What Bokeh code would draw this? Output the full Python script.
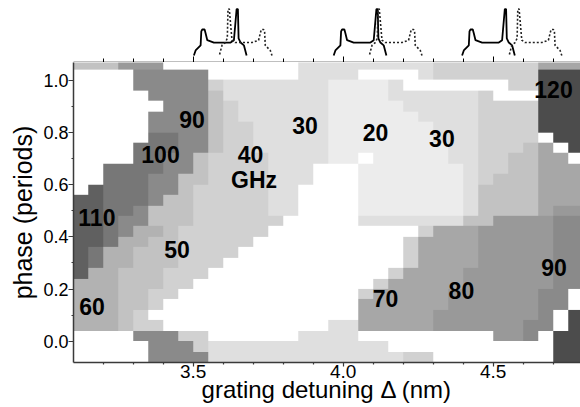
import numpy as np
from bokeh.plotting import figure
from bokeh.layouts import column
from bokeh.models import ColumnDataSource, FixedTicker, LinearAxis, LinearColorMapper, Range1d
from bokeh.core.properties import value
from bokeh.embed import file_html
from bokeh.resources import INLINE

# ---------------- data ----------------
DETUNING_START = 3.10   # nm, left edge of the first grid column
DETUNING_STEP = 0.05    # nm per column
PHASE_START = -0.08     # periods, bottom edge of the lowest grid row
PHASE_STEP = 0.04       # periods per row

# pulsation frequency of every cell in units of 10 GHz (hex digit); '0' = no pulsation (white)
# first string = top row (highest phase)
FREQ_ROWS = [
    "5558880000000003333333334444444777",
    "0000999990000003333000034444444CCC",
    "0000999994333333322223000000044CCC",
    "0000099995333333322223333334000CCC",
    "0000009995433333322222333334444CCC",
    "0000099995433333322222233334444CCC",
    "0000099995443333322222223334444CCC",
    "00000AA9954433333222222233344440CC",
    "0000AAA99544333332222222233444570C",
    "0000AA9954444333322022222334455770",
    "00AAAA9954444333000222222234455777",
    "00AAA99554444333000222222234555777",
    "0BAAA99544444330000222222235555777",
    "BBAAA95544444330000222222235555777",
    "BBAA955544444330000222222235555788",
    "BBA9955544444400000333333355888899",
    "BBA9665444444000000000047778888899",
    "BBA6655444440000000000477778888899",
    "BA66555444400000000000477778888899",
    "BA66555444000000000000477778888899",
    "B665554440000000000004777788888899",
    "6665554400000000000047777788888899",
    "6665544000000000000477777888888990",
    "6665540000000000000777777888888990",
    "666540000000000000077777888888890C",
    "666544000000000003377777888888990C",
    "00009994400000033330000000008890CC",
    "00000999433333333333300000000000CC",
    "00000999933333333333334400000000CC",
]

FREQ_LEVELS = [20, 30, 40, 50, 60, 70, 80, 90, 100, 110, 120]

MAJOR_X = [3.5, 4.0, 4.5]
MINOR_X = [3.1, 3.2, 3.3, 3.4, 3.6, 3.7, 3.8, 3.9, 4.1, 4.2, 4.3, 4.4, 4.6, 4.7]
X_TICK_LABELS = ["3.5", "4.0", "4.5"]
MAJOR_Y = [0.0, 0.2, 0.4, 0.6, 0.8, 1.0]
MINOR_Y = [0.1, 0.3, 0.5, 0.7, 0.9]
Y_TICK_LABELS = ["0.0", "0.2", "0.4", "0.6", "0.8", "1.0"]

LABEL_TEXT = ["90", "100", "110", "60", "50", "40", "GHz", "30", "20", "30", "120", "70", "80", "90"]
LABEL_DETUNING = [3.496, 3.391, 3.179, 3.163, 3.446, 3.691, 3.703, 3.873, 4.108, 4.329, 4.701, 4.141, 4.394, 4.703]
LABEL_PHASE = [0.852, 0.718, 0.476, 0.133, 0.352, 0.718, 0.620, 0.827, 0.799, 0.779, 0.965, 0.164, 0.194, 0.281]

# inset spectra: wavelength offset from the main peak (nm) and normalized intensity
SPEC_OFFSET = [-0.1447, -0.139, -0.1223, -0.12, -0.1167, -0.109, -0.1057, -0.1, -0.078,
               -0.0223, -0.0113, -0.0023, 0.002, 0.0043, 0.011, 0.022, 0.031]
SPEC_LEVEL = [0.0, 0.11, 0.22, 0.52, 0.56, 0.56, 0.48, 0.33, 0.28,
              0.28, 0.33, 1.0, 1.0, 0.37, 0.28, 0.22, 0.0]
SOLID_PEAK = [3.647, 4.113, 4.541]
DOTTED_PEAK = [3.618, 4.118, 4.584]

X_TITLE = "grating detuning \u0394 (nm)"
Y_TITLE = "phase (periods)"

# ---------------- styles ----------------
GRAYS = ["#ececec", "#dfdfdf", "#d1d1d1", "#c2c2c2", "#b2b2b2", "#a7a7a7",
         "#999999", "#8a8a8a", "#777777", "#606060", "#4c4c4c"]
FONT = "Liberation Sans"
AXIS_COLOR = "#3a3a3a"

# ---------------- grid ----------------
lengths = [len(r) for r in FREQ_ROWS]
ncols = max(set(lengths), key=lengths.count)
nrows = len(FREQ_ROWS)
grid = np.array([[int(ch, 16) * 10 for ch in row.ljust(ncols, row[-1])[:ncols]]
                 for row in reversed(FREQ_ROWS)], dtype=float)
grid[grid == 0] = np.nan
img = np.kron(grid, np.ones((4, 4)))

mapper = LinearColorMapper(palette=GRAYS, low=FREQ_LEVELS[0] - 5, high=FREQ_LEVELS[-1] + 5,
                           nan_color="white")

x_range = Range1d(3.101, 4.791)
p = figure(width=580, height=345, x_range=x_range, y_range=Range1d(-0.0817, 1.069),
           output_backend="svg", toolbar_location=None,
           min_border_left=73, min_border_right=0, min_border_top=0, min_border_bottom=45)
p.image(image=[img], x=DETUNING_START, y=PHASE_START,
        dw=ncols * DETUNING_STEP, dh=nrows * PHASE_STEP, color_mapper=mapper)

src = ColumnDataSource(dict(x=LABEL_DETUNING, y=LABEL_PHASE, t=LABEL_TEXT))
p.text(x="x", y="y", text="t", source=src, text_font=value(FONT), text_font_style="bold",
       text_font_size="23px", text_align="center", text_baseline="middle", text_color="black")

p.xgrid.visible = False
p.ygrid.visible = False
p.outline_line_color = None
p.background_fill_color = "white"
p.border_fill_color = "white"

p.xaxis.ticker = FixedTicker(ticks=MAJOR_X, minor_ticks=MINOR_X)
p.xaxis.major_label_overrides = dict(zip(MAJOR_X, X_TICK_LABELS))
p.yaxis.ticker = FixedTicker(ticks=MAJOR_Y, minor_ticks=MINOR_Y)
p.yaxis.major_label_overrides = dict(zip(MAJOR_Y, Y_TICK_LABELS))
for ax, size, tout, sto in ((p.xaxis, "19px", 4, -2), (p.yaxis, "18px", 5, 0)):
    ax.axis_line_color = AXIS_COLOR
    ax.axis_line_width = 1.5
    ax.major_tick_line_color = AXIS_COLOR
    ax.minor_tick_line_color = AXIS_COLOR
    ax.major_tick_line_width = 1.2
    ax.minor_tick_line_width = 1.2
    ax.major_tick_in = 0
    ax.major_tick_out = tout
    ax.minor_tick_in = 0
    ax.minor_tick_out = 2
    ax.major_label_standoff = sto
    ax.major_label_text_font = FONT
    ax.major_label_text_font_size = size
    ax.major_label_text_color = "black"
    ax.axis_label_text_font = FONT
    ax.axis_label_text_font_style = "normal"
    ax.axis_label_text_color = "black"

p.xaxis.axis_label = X_TITLE
p.xaxis.axis_label_text_font_size = "24px"
p.xaxis.axis_label_standoff = -5
p.yaxis.axis_label = Y_TITLE
p.yaxis.axis_label_text_font_size = "25px"
p.yaxis.axis_label_standoff = 3

# ---------------- inset strip on top ----------------
top = figure(width=580, height=62, x_range=x_range, y_range=Range1d(-0.149, 1.184),
             output_backend="svg", toolbar_location=None, x_axis_type=None, y_axis_type=None,
             min_border_left=73, min_border_right=0, min_border_top=0, min_border_bottom=0)
top.xgrid.visible = False
top.ygrid.visible = False
top.outline_line_color = None
top.background_fill_color = "white"
top.border_fill_color = "white"
for sp, dp in zip(SOLID_PEAK, DOTTED_PEAK):
    top.line([sp + o for o in SPEC_OFFSET], SPEC_LEVEL, line_color="black", line_width=1.8)
    top.line([dp - o for o in SPEC_OFFSET], SPEC_LEVEL, line_color="#222222", line_width=1.6,
             line_dash="2 2")
tax = LinearAxis(ticker=FixedTicker(ticks=MAJOR_X, minor_ticks=MINOR_X),
                 major_tick_in=6, major_tick_out=0, minor_tick_in=4, minor_tick_out=0,
                 major_label_text_font_size="1px", major_label_text_color=None,
                 major_label_standoff=0,
                 axis_line_color="black", axis_line_width=1.5,
                 major_tick_line_color="black", minor_tick_line_color="black")
top.add_layout(tax, "below")

layout = column(top, p, spacing=0)
open("out.html", "w").write(file_html(layout, INLINE))
